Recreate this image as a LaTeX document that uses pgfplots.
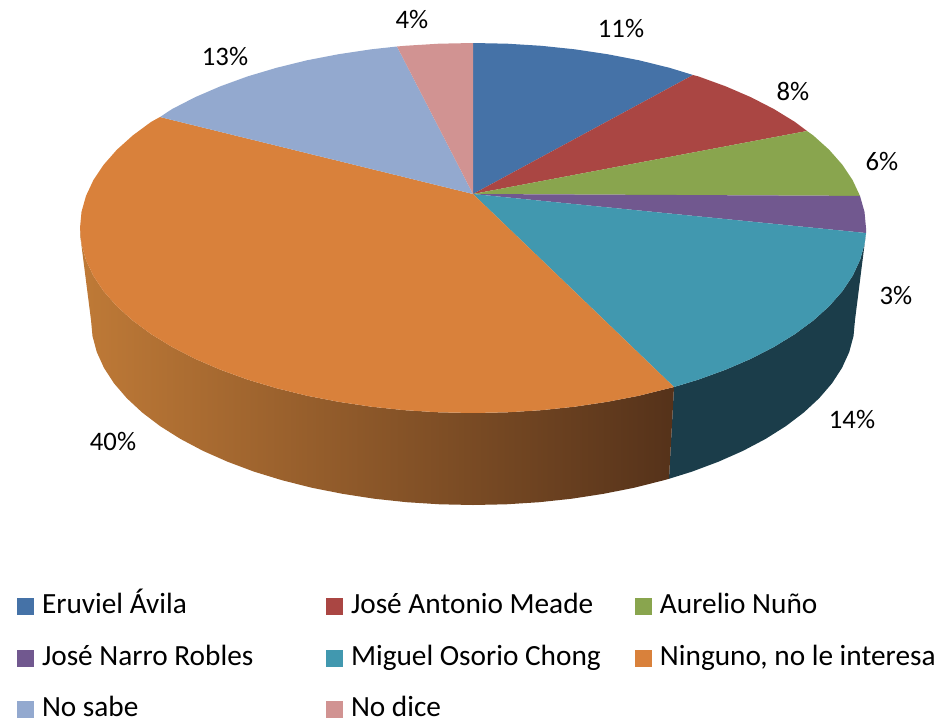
\documentclass[border=0pt]{standalone}
\usepackage{pgfplots}
\pgfplotsset{compat=1.18}
\usepackage{fontspec}
\setmainfont{Carlito}
\DeclareRobustCommand{\lt}[1]{\mbox{\spaceskip=6.6pt\relax #1}}
\definecolor{cA}{HTML}{4572A7}
\definecolor{cB}{HTML}{AA4643}
\definecolor{cC}{HTML}{89A54E}
\definecolor{cD}{HTML}{71588F}
\definecolor{cE}{HTML}{4198AF}
\definecolor{cF}{HTML}{D9813B}
\definecolor{cG}{HTML}{93A9CF}
\definecolor{cH}{HTML}{D19392}
\definecolor{sE}{HTML}{1B3D4A}
\definecolor{sL}{HTML}{BF7A37}
\definecolor{sR}{HTML}{55321A}
\begin{document}
\begin{tikzpicture}
\begin{axis}[
  scale only axis, width=940pt, height=720pt,
  xmin=0, xmax=940, ymin=0, ymax=720, y dir=reverse,
  axis lines=none, clip=false,
  legend columns=3,
  legend cell align=left,
  legend image code/.code={\fill[#1] (0pt,-8.5pt) rectangle (17pt,8.5pt);},
  legend style={at={(axis cs:17,658.3)}, anchor=west, draw=none, fill=none,
    inner sep=0pt, outer sep=0pt, font=\fontsize{29.3}{29.3}\selectfont,
    row sep=27.5pt,
    nodes={inner sep=0pt, outer sep=0pt, text height=19pt, text depth=5pt},
    /tikz/every odd column/.append style={column sep=8pt},
    /tikz/every even column/.append style={text width=284pt},
  },
]
% side of teal slice
\addplot[forget plot, draw=none, fill=sE] coordinates {
(866,233)(864.5,244.1)(860,260.1)(852.6,275.9)(842.3,291.3)(829.2,306.2)(813.3,320.5)(794.9,334.1)(774,346.9)(750.9,358.8)(725.6,369.7)(698.4,379.6)(674,387)
(669,478.8)(692.1,471.6)(718.5,461.7)(743.1,450.8)(765.6,438.9)(785.9,426.1)(803.8,412.5)(819.2,398.2)(832,383.3)(842,367.9)(849.2,352.1)(853.5,336.1)(855,320)
} -- cycle;
% side of orange slice
\addplot[forget plot, draw=none, left color=sL, right color=sR] coordinates {
(674,387)(639.1,395.7)(607.4,401.8)(574.7,406.7)(541.2,410.2)(507.3,412.3)(473,413)(438.7,412.3)(404.8,410.2)(371.3,406.7)(338.6,401.8)(306.9,395.7)(276.5,388.2)(247.6,379.6)(220.4,369.7)(195.1,358.8)(172,346.9)(151.1,334.1)(132.7,320.5)(116.8,306.2)(103.7,291.3)(93.4,275.9)(86,260.1)(81.5,244.1)(80,228)
(80,234)(91,320)(92.5,336.1)(96.8,352.1)(104,367.9)(114,383.3)(126.8,398.2)(142.2,412.5)(160.1,426.1)(180.4,438.9)(202.9,450.8)(227.5,461.7)(253.9,471.6)(282,480.2)(311.6,487.7)(342.4,493.8)(374.1,498.7)(406.7,502.2)(439.7,504.3)(473,505)(506.3,504.3)(539.3,502.2)(571.9,498.7)(603.6,493.8)(634.4,487.7)(664,480.2)(669,478.8)
} -- cycle;
% top slices
\addplot[draw=none, fill=cA] coordinates {
(473,194)(473,43)(507.3,43.7)(541.2,45.8)(574.7,49.3)(607.4,54.2)(639.1,60.3)(669.5,67.8)(693,75)
} -- cycle;
\addlegendentry{\lt{Eruviel Ávila}}
\addplot[draw=none, fill=cB] coordinates {
(473,194)(693,75)(698.4,76.4)(725.6,86.3)(750.9,97.2)(774,109.1)(794.9,121.9)(807,131)
} -- cycle;
\addlegendentry{\lt{José Antonio Meade}}
\addplot[draw=none, fill=cC] coordinates {
(473,194)(807,131)(813.3,135.5)(829.2,149.8)(842.3,164.7)(852.6,180.1)(860,195.9)
} -- cycle;
\addlegendentry{\lt{Aurelio Nuño}}
\addplot[draw=none, fill=cD] coordinates {
(473,194)(860,195.9)(864.5,211.9)(866,228)(866,233)
} -- cycle;
\addlegendentry{\lt{José Narro Robles}}
\addplot[draw=none, fill=cE] coordinates {
(473,194)(866,233)(864.5,244.1)(860,260.1)(852.6,275.9)(842.3,291.3)(829.2,306.2)(813.3,320.5)(794.9,334.1)(774,346.9)(750.9,358.8)(725.6,369.7)(698.4,379.6)(674,387)
} -- cycle;
\addlegendentry{\lt{Miguel Osorio Chong}}
\addplot[draw=none, fill=cF] coordinates {
(473,194)(674,387)(639.1,395.7)(607.4,401.8)(574.7,406.7)(541.2,410.2)(507.3,412.3)(473,413)(438.7,412.3)(404.8,410.2)(371.3,406.7)(338.6,401.8)(306.9,395.7)(276.5,388.2)(247.6,379.6)(220.4,369.7)(195.1,358.8)(172,346.9)(151.1,334.1)(132.7,320.5)(116.8,306.2)(103.7,291.3)(93.4,275.9)(86,260.1)(81.5,244.1)(80,228)(81.5,211.9)(86,195.9)(93.4,180.1)(103.7,164.7)(116.8,149.8)(132.7,135.5)(151.1,121.9)(160,117)
} -- cycle;
\addlegendentry{\lt{Ninguno, no le interesa}}
\addplot[draw=none, fill=cG] coordinates {
(473,194)(160,117)(172,109.1)(195.1,97.2)(220.4,86.3)(247.6,76.4)(276.5,67.8)(306.9,60.3)(338.6,54.2)(371.3,49.3)(397,46.5)
} -- cycle;
\addlegendentry{\lt{No sabe}}
\addplot[draw=none, fill=cH] coordinates {
(473,194)(397,46.5)(404.8,45.8)(438.7,43.7)(473,43)
} -- cycle;
\addlegendentry{\lt{No dice}}
\node[font=\fontsize{26.7}{26.7}\selectfont] at (axis cs:621,29) {11\%};
\node[font=\fontsize{26.7}{26.7}\selectfont] at (axis cs:793,91) {8\%};
\node[font=\fontsize{26.7}{26.7}\selectfont] at (axis cs:882,162) {6\%};
\node[font=\fontsize{26.7}{26.7}\selectfont] at (axis cs:896,296) {3\%};
\node[font=\fontsize{26.7}{26.7}\selectfont] at (axis cs:852,419) {14\%};
\node[font=\fontsize{26.7}{26.7}\selectfont] at (axis cs:113,441) {40\%};
\node[font=\fontsize{26.7}{26.7}\selectfont] at (axis cs:225,57) {13\%};
\node[font=\fontsize{26.7}{26.7}\selectfont] at (axis cs:412,20) {4\%};
\end{axis}
\pgfresetboundingbox
\path[use as bounding box] (0,0) rectangle (940pt,720pt);
\end{tikzpicture}
\end{document}
